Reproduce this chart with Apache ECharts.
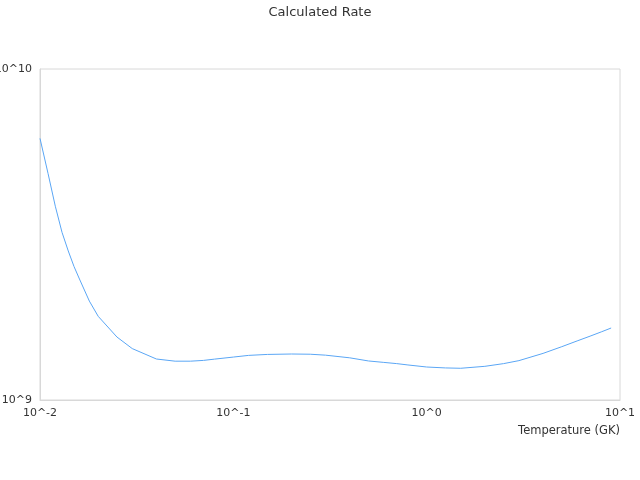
<!DOCTYPE html>
<html>
<head>
<meta charset="utf-8">
<script src="https://cdn.jsdelivr.net/npm/echarts@6/dist/echarts.min.js"></script>
<style>html,body{margin:0;padding:0;background:#fff}#c{width:640px;height:480px}</style>
</head>
<body>
<div id="c"></div>
<script>
const temperatures = [0.01,0.011,0.012,0.013,0.014,0.015,0.016,0.018,0.02,0.025,0.03,0.04,0.05,0.06,0.07,0.08,0.1,0.12,0.15,0.2,0.25,0.3,0.4,0.5,0.6,0.7,0.8,1.0,1.25,1.5,2,2.5,3,4,5,6,7,8,9];
const rates = [6.17e9,4.84e9,3.85e9,3.21e9,2.82e9,2.53e9,2.32e9,1.99e9,1.79e9,1.55e9,1.43e9,1.33e9,1.31e9,1.31e9,1.317e9,1.329e9,1.348e9,1.364e9,1.373e9,1.377e9,1.375e9,1.366e9,1.341e9,1.312e9,1.299e9,1.288e9,1.276e9,1.258e9,1.25e9,1.247e9,1.264e9,1.288e9,1.315e9,1.383e9,1.449e9,1.508e9,1.559e9,1.606e9,1.65e9];
const titleText = 'Calculated Rate';
const xAxisName = 'Temperature (GK)';

const font = 'DejaVu Sans';
const chart = echarts.init(document.getElementById('c'));
const fmt = v => '10^' + Math.round(Math.log10(v));
chart.setOption({
  animation: false,
  title: { text: titleText, left: 'center', top: 1, textStyle: { fontFamily: font, fontSize: 13, fontWeight: 'normal', color: '#333' } },
  grid: { left: 40, right: 20, top: 69, bottom: 80, show: true, borderColor: '#d8d8d8', borderWidth: 1, containLabel: false, outerBoundsMode: 'none' },
  xAxis: {
    type: 'log', min: 0.01, max: 10, logBase: 10,
    name: xAxisName, nameLocation: 'end', nameGap: 0,
    nameTextStyle: { fontFamily: font, fontSize: 11.5, color: '#333', align: 'right', verticalAlign: 'top', padding: [25, 0, 0, 0] },
    axisLine: { lineStyle: { color: '#d8d8d8' } },
    axisTick: { show: false },
    splitLine: { show: false },
    axisLabel: { formatter: fmt, fontFamily: font, fontSize: 11, color: '#333', margin: 8 }
  },
  yAxis: {
    type: 'log', min: 1e9, max: 1e10, logBase: 10,
    axisLine: { show: true, lineStyle: { color: '#d8d8d8' } },
    axisTick: { show: false },
    splitLine: { show: false },
    axisLabel: { formatter: fmt, fontFamily: font, fontSize: 11, color: '#333', margin: 8 }
  },
  series: [{
    type: 'line', showSymbol: false, symbol: 'none',
    data: temperatures.map((t, i) => [t, rates[i]]),
    lineStyle: { color: '#5aa6f5', width: 1 }
  }]
});
</script>
</body>
</html>
